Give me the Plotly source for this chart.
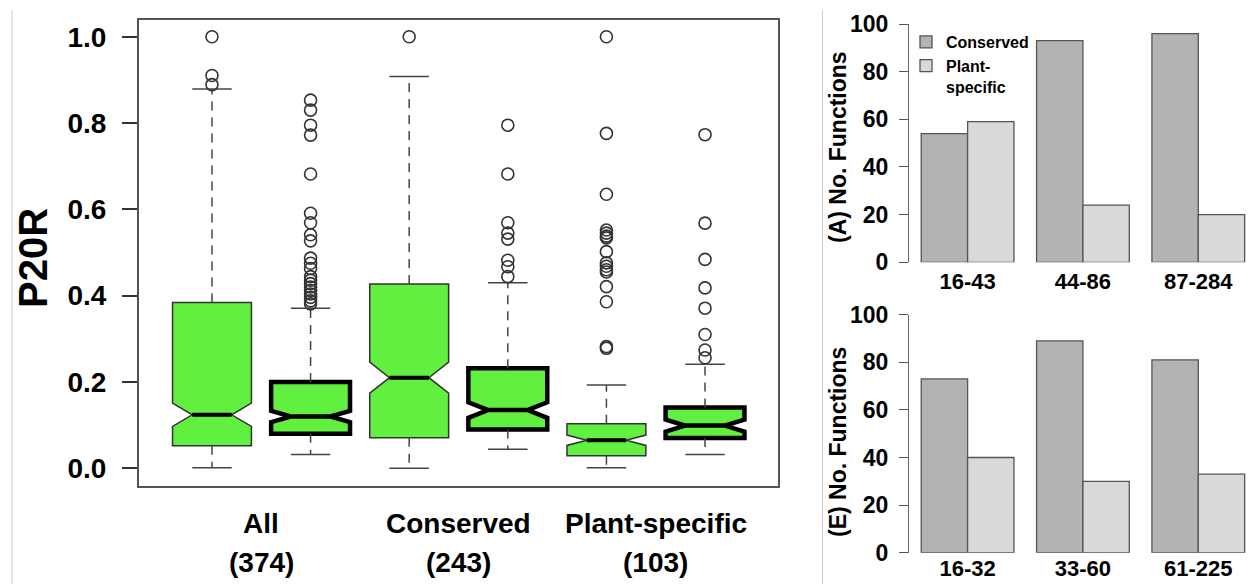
import plotly.graph_objects as go

# ---------------- data ----------------
groups = ["All", "Conserved", "Plant-specific"]
counts = [374, 243, 103]

box_pos = [1, 2, 3, 4, 5, 6]
box_style = ["thin", "thick", "thin", "thick", "thin", "thick"]
q1 = [0.052, 0.080, 0.071, 0.090, 0.029, 0.070]
median = [0.124, 0.120, 0.210, 0.135, 0.065, 0.099]
q3 = [0.384, 0.200, 0.427, 0.232, 0.103, 0.141]
lower_whisker = [0.001, 0.032, 0.000, 0.044, 0.001, 0.032]
upper_whisker = [0.879, 0.371, 0.908, 0.430, 0.193, 0.241]
notch_span = [0.027, 0.013, 0.036, 0.018, 0.012, 0.014]

outliers = [
    [1.0, 0.910, 0.889],
    [0.853, 0.830, 0.795, 0.772, 0.682, 0.591, 0.569, 0.541, 0.527, 0.487,
     0.475, 0.463, 0.444, 0.436, 0.428, 0.420, 0.412, 0.404, 0.396, 0.388, 0.381],
    [1.0],
    [0.795, 0.682, 0.569, 0.545, 0.531, 0.482, 0.467, 0.444],
    [1.0, 0.776, 0.635, 0.552, 0.545, 0.538, 0.534, 0.502, 0.476, 0.468,
     0.460, 0.455, 0.421, 0.386, 0.282, 0.278],
    [0.773, 0.568, 0.484, 0.418, 0.371, 0.310, 0.274, 0.256],
]

y_ticks = [0.0, 0.2, 0.4, 0.6, 0.8, 1.0]

bins_A = ["16-43", "44-86", "87-284"]
conserved_A = [54, 93, 96]
plant_A = [59, 24, 20]

bins_E = ["16-32", "33-60", "61-225"]
conserved_E = [73, 89, 81]
plant_E = [40, 30, 33]

bar_ticks = [0, 20, 40, 60, 80, 100]

# ---------------- styling ----------------
W, H = 1248, 584
FONT = "Liberation Sans, Arial, sans-serif"
GREEN = "#62F040"
BOX_W = 0.8
HALF_MED = BOX_W / 4
STAPLE = BOX_W / 4


def px_x(v):
    return v / W


def px_y(v):
    return 1 - v / H


fig = go.Figure()

# boxes
for style, lw, lc in [("thin", 1.5, "#333333"), ("thick", 4.5, "#000000")]:
    idx = [i for i, s in enumerate(box_style) if s == style]
    fig.add_trace(go.Box(
        x=[box_pos[i] for i in idx],
        q1=[q1[i] for i in idx],
        median=[median[i] for i in idx],
        q3=[q3[i] for i in idx],
        lowerfence=[q1[i] for i in idx],
        upperfence=[q3[i] for i in idx],
        notchspan=[notch_span[i] for i in idx],
        notched=True, notchwidth=0.25, whiskerwidth=0,
        width=BOX_W, fillcolor=GREEN,
        line=dict(color=lc, width=lw),
        boxpoints=False, showlegend=False, hoverinfo="skip",
        xaxis="x", yaxis="y",
    ))

# thick medians for thin-bordered boxes
mx, my = [], []
for i, s in enumerate(box_style):
    if s == "thin":
        mx += [box_pos[i] - HALF_MED, box_pos[i] + HALF_MED, None]
        my += [median[i], median[i], None]
fig.add_trace(go.Scatter(x=mx, y=my, mode="lines",
                         line=dict(color="#000000", width=4),
                         showlegend=False, hoverinfo="skip", xaxis="x", yaxis="y"))

# dashed whiskers
wx, wy = [], []
sx, sy = [], []
for i, p in enumerate(box_pos):
    wx += [p, p, None, p, p, None]
    wy += [q3[i], upper_whisker[i], None, q1[i], lower_whisker[i], None]
    sx += [p - STAPLE, p + STAPLE, None, p - STAPLE, p + STAPLE, None]
    sy += [upper_whisker[i], upper_whisker[i], None,
           lower_whisker[i], lower_whisker[i], None]
fig.add_trace(go.Scatter(x=wx, y=wy, mode="lines",
                         line=dict(color="#444444", width=1.5, dash="9px,7px"),
                         showlegend=False, hoverinfo="skip", xaxis="x", yaxis="y"))
fig.add_trace(go.Scatter(x=sx, y=sy, mode="lines",
                         line=dict(color="#444444", width=1.5),
                         showlegend=False, hoverinfo="skip", xaxis="x", yaxis="y"))

# outliers
ox, oy = [], []
for i, p in enumerate(box_pos):
    ox += [p] * len(outliers[i])
    oy += outliers[i]
fig.add_trace(go.Scatter(x=ox, y=oy, mode="markers",
                         marker=dict(symbol="circle-open", size=12,
                                     color="#333333", line=dict(width=1.6)),
                         showlegend=False, hoverinfo="skip", xaxis="x", yaxis="y"))

# bar panels
for xs, cons, plant, xa, ya, leg in [(bins_A, conserved_A, plant_A, "x2", "y2", True),
                                     (bins_E, conserved_E, plant_E, "x3", "y3", False)]:
    fig.add_trace(go.Bar(x=xs, y=cons, name="Conserved",
                         marker=dict(color="#b3b3b3", line=dict(color="#555555", width=1.3)),
                         showlegend=leg, xaxis=xa, yaxis=ya, hoverinfo="skip"))
    fig.add_trace(go.Bar(x=xs, y=plant, name="Plant-<br>specific",
                         marker=dict(color="#d9d9d9", line=dict(color="#555555", width=1.3)),
                         showlegend=leg, xaxis=xa, yaxis=ya, hoverinfo="skip"))

bold = dict(family=FONT, color="#000000", weight="bold")

# group labels under the box plot
annotations = []
for g, (name, n) in enumerate(zip(groups, counts)):
    cx = (box_pos[2 * g] + box_pos[2 * g + 1]) / 2
    annotations.append(dict(x=cx, y=px_y(523), xref="x", yref="paper", text=name,
                            showarrow=False, font=dict(bold, size=28),
                            xanchor="center", yanchor="middle"))
    annotations.append(dict(x=cx, y=px_y(562), xref="x", yref="paper", text=f"({n})",
                            showarrow=False, font=dict(bold, size=28),
                            xanchor="center", yanchor="middle"))

annotations.append(dict(x=px_x(33), y=px_y(258), xref="paper", yref="paper", text="P20R",
                        textangle=-90, showarrow=False, font=dict(bold, size=40),
                        xanchor="center", yanchor="middle"))
annotations.append(dict(x=px_x(838), y=px_y(147), xref="paper", yref="paper",
                        text="(A) No. Functions", textangle=-90, showarrow=False,
                        font=dict(bold, size=23), xanchor="center", yanchor="middle"))
annotations.append(dict(x=px_x(838), y=px_y(442), xref="paper", yref="paper",
                        text="(E) No. Functions", textangle=-90, showarrow=False,
                        font=dict(bold, size=23), xanchor="center", yanchor="middle"))

shapes = [
    dict(type="line", xref="paper", yref="paper", x0=px_x(12), x1=px_x(12),
         y0=px_y(10), y1=0, line=dict(color="#cccccc", width=1)),
    dict(type="line", xref="paper", yref="paper", x0=px_x(822.5), x1=px_x(822.5),
         y0=px_y(10), y1=0, line=dict(color="#cccccc", width=1)),
]

bar_xaxis = dict(domain=[px_x(909), 1.0], range=[-0.508, 2.431], showline=False,
                 ticks="", showgrid=False, zeroline=False, automargin=False,
                 tickfont=dict(bold, size=22))
bar_yaxis = dict(range=[0, 100], tickvals=bar_ticks, ticks="outside", ticklen=9,
                 tickwidth=1.3, tickcolor="#555555", showline=True, linecolor="#666666",
                 linewidth=1.3, showgrid=False, zeroline=False, automargin=False,
                 tickfont=dict(bold, size=23), ticklabelstandoff=6)

fig.update_layout(
    width=W, height=H,
    margin=dict(l=0, r=0, t=0, b=0, autoexpand=False),
    paper_bgcolor="white", plot_bgcolor="white",
    boxmode="overlay", barmode="group", bargap=0.196, bargroupgap=0,
    showlegend=True,
    legend=dict(x=px_x(906), y=px_y(25), xanchor="left", yanchor="top",
                font=dict(bold, size=16), bgcolor="rgba(0,0,0,0)",
                tracegroupgap=0, itemwidth=30, valign="top"),
    xaxis=dict(domain=[px_x(139), px_x(778)], range=[0.26, 6.74], showticklabels=False,
               ticks="", showline=True, mirror=True, linecolor="#555555", linewidth=2,
               showgrid=False, zeroline=False, anchor="y", automargin=False),
    yaxis=dict(domain=[px_y(486), px_y(20)], range=[-0.041, 1.0387], tickvals=y_ticks,
               ticktext=[f"{v:.1f}" for v in y_ticks], ticks="outside", ticklen=15,
               tickwidth=1.5, tickcolor="#333333", showline=True, mirror=True,
               linecolor="#555555", linewidth=2, showgrid=False, zeroline=False,
               tickfont=dict(bold, size=28), ticklabelstandoff=10, anchor="x",
               automargin=False),
    xaxis2=dict(bar_xaxis, anchor="y2", ticklabelstandoff=4),
    yaxis2=dict(bar_yaxis, domain=[px_y(262.3), px_y(24)], anchor="x2"),
    xaxis3=dict(bar_xaxis, anchor="y3", ticklabelstandoff=0),
    yaxis3=dict(bar_yaxis, domain=[px_y(552.7), px_y(314.7)], anchor="x3"),
    annotations=annotations,
    shapes=shapes,
)

fig.write_html("out.html", config={"displayModeBar": False},
               post_script="document.body.style.margin='0';")
